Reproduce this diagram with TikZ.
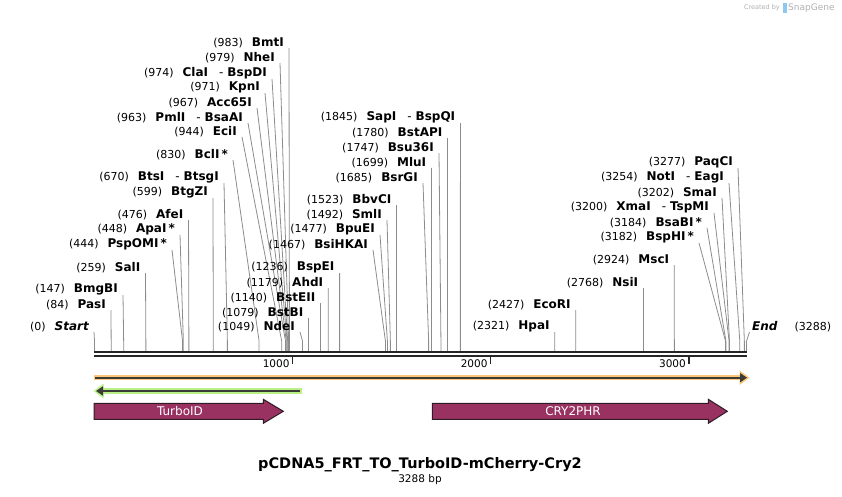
\documentclass[tikz,border=0pt]{standalone}
\usepackage{fontspec}
\setmainfont{DejaVu Sans}
\usetikzlibrary{arrows.meta}

\definecolor{siteGray}{RGB}{140,140,140}
\definecolor{featPurple}{RGB}{153,50,97}
\definecolor{featEdge}{RGB}{45,28,38}
\definecolor{orangeGlow}{RGB}{250,200,120}
\definecolor{greenGlow}{RGB}{185,240,135}
\definecolor{coreDark}{RGB}{60,60,55}
\definecolor{logoGray}{RGB}{175,175,175}
\definecolor{logoBlue}{RGB}{140,200,240}

\newcommand\sitenum{\fontsize{11}{12}\selectfont}
\newcommand\sitename{\fontsize{12}{13}\selectfont\bfseries}
\newcommand\sitesep{\hspace{11pt}{\mdseries -}\hspace{4pt}}
% \cutsite{id}{bp}{x line start}{y line start}{name}
\newcommand\cutsite[5]{%
  \node[sitelbl] (l#1) at ({#3-5},#4) {{\sitenum(#2)}\hspace{9pt}{\sitename #5}};
  \coordinate (s#1) at ({94.5+0.1983*#2},341);
  \coordinate (b#1) at ({94.5+0.1983*#2},351);
  \draw[siteline] ([xshift=5pt]l#1.south east) -- (s#1) -- (b#1);
}

\begin{document}
\begin{tikzpicture}[x=1pt,y=-1pt,
  sitelbl/.style={anchor=south east,inner sep=0pt},
  siteline/.style={siteGray,line width=0.8pt},
  seqline/.style={black!85,line width=2pt},
  ticks/.style={black!85,line width=1.5pt},
  glow/.style={#1,line width=5.5pt},
  core/.style={coreDark,line width=2pt},
  feat/.style={fill=featPurple,draw=featEdge,line width=1pt}]
  \useasboundingbox (0,0) rectangle (842,496);
  % ============ SnapGene logo ============
  \node[anchor=east,inner sep=0pt,text=logoGray,font=\fontsize{6.5}{8}\selectfont] (crby) at (780,8) {Created by};
  \fill[logoBlue] (783,3) rectangle (787,13);
  \node[anchor=west,inner sep=0pt,text=logoGray,font=\fontsize{9}{10}\selectfont] (sgene) at (788,8) {SnapGene};
  % ============ SITIOS (izquierda) ============
  \node[sitelbl] (lStart) at (89,332) {{\sitenum(0)}\hspace{9pt}{\sitename\itshape Start}};
  \coordinate (sStart) at (94.5,341); \coordinate (bStart) at (94.5,351);
  \draw[siteline] ([xshift=5pt]lStart.south east) -- (sStart) -- (bStart);
  \cutsite{PasI}{84}{111}{310}{PasI}
  \cutsite{BmgBI}{147}{123}{295}{BmgBI}
  \cutsite{SalI}{259}{145.5}{273}{SalI}
  \cutsite{PspOMI}{444}{172}{250}{PspOMI\,*}
  \cutsite{ApaI}{448}{180}{235}{ApaI\,*}
  \cutsite{AfeI}{476}{188.5}{220}{AfeI}
  \cutsite{BtgZI}{599}{213}{198}{BtgZI}
  \cutsite{BtsI}{670}{224}{183}{BtsI\sitesep BtsgI}
  \cutsite{BclI}{830}{233}{160}{BclI\,*}
  \cutsite{EciI}{944}{242}{137}{EciI}
  \cutsite{PmlI}{963}{248}{123}{PmlI\sitesep BsaAI}
  \cutsite{AccI}{967}{257}{108}{Acc65I}
  \cutsite{KpnI}{971}{265}{93}{KpnI}
  \cutsite{ClaI}{974}{272}{79}{ClaI\sitesep BspDI}
  \cutsite{NheI}{979}{280}{63}{NheI}
  \cutsite{BmtI}{983}{289}{48}{BmtI}
  % ============ SITIOS (centro) ============
  \cutsite{NdeI}{1049}{300}{332}{NdeI}
  \cutsite{BstBI}{1079}{308.5}{318}{BstBI}
  \cutsite{BstEII}{1140}{320.5}{303}{BstEII}
  \cutsite{AhdI}{1179}{328.3}{288}{AhdI}
  \cutsite{BspEI}{1236}{339.6}{273}{BspEI}
  \cutsite{BsiHKAI}{1467}{373}{250}{BsiHKAI}
  \cutsite{BpuEI}{1477}{380}{235}{BpuEI}
  \cutsite{SmlI}{1492}{387}{220}{SmlI}
  \cutsite{BbvCI}{1523}{396.5}{205}{BbvCI}
  \cutsite{BsrGI}{1685}{423}{183}{BsrGI}
  \cutsite{MluI}{1699}{431.4}{168}{MluI}
  \cutsite{BsuI}{1747}{439}{153}{Bsu36I}
  \cutsite{BstAPI}{1780}{447.5}{138}{BstAPI}
  \cutsite{SapI}{1845}{460.4}{123}{SapI\sitesep BspQI}
  % ============ SITIOS (derecha) ============
  \cutsite{HpaI}{2321}{554.8}{332}{HpaI}
  \cutsite{EcoRI}{2427}{575.8}{310}{EcoRI}
  \cutsite{NsiI}{2768}{643.4}{288}{NsiI}
  \cutsite{MscI}{2924}{674.3}{265}{MscI}
  \cutsite{BspHI}{3182}{699}{243}{BspHI\,*}
  \cutsite{BsaBI}{3184}{707}{228}{BsaBI\,*}
  \cutsite{XmaI}{3200}{714}{213}{XmaI\sitesep TspMI}
  \cutsite{SmaI}{3202}{722}{198}{SmaI}
  \cutsite{NotI}{3254}{729}{183}{NotI\sitesep EagI}
  \cutsite{PaqCI}{3277}{738}{168}{PaqCI}
  \node[anchor=south west,inner sep=0pt] (lEnd) at (752,332) {{\sitename\itshape End}\hspace{17pt}{\sitenum(3288)}};
  \coordinate (sEnd) at (746.5,341); \coordinate (bEnd) at (746.5,351);
  \draw[siteline] ([xshift=-2.5pt]lEnd.south west) -- (sEnd) -- (bEnd);
  % ============ SECUENCIA Y REGLA ============
  \coordinate (seqL) at (94,352.3); \coordinate (seqR) at (747,352.3);
  \draw[seqline] (seqL) -- (seqR);
  \draw[seqline] ([yshift=-3.9pt]seqL) -- ([yshift=-3.9pt]seqR);
  \foreach \k/\tx in {1/292.7,2/490.7,3/689}{
    \coordinate (t\k) at (\tx,356);
    \draw[ticks] (t\k) -- ++(0,8);
    \node[anchor=east,inner sep=0pt,font=\fontsize{10.5}{12}\selectfont] (tl\k) at ([xshift=-3pt,yshift=-7.5pt]t\k) {\k000};
  }
  % ============ FEATURES ============
  \coordinate (oL) at (94,377.7); \coordinate (oR) at (747,377.7);
  \draw[glow=orangeGlow,-{Triangle[length=10pt,width=14pt]}] (oL) -- ([xshift=2.5pt]oR);
  \draw[core,-{Triangle[length=7pt,width=9pt]}] ([xshift=1pt]oL) -- (oR);
  \coordinate (gL) at (96,391); \coordinate (gR) at (300,391);
  \draw[glow=greenGlow,-{Triangle[length=10pt,width=14pt]}] ([xshift=1.7pt]gR) -- ([xshift=-2.5pt]gL);
  \draw[core,-{Triangle[length=7pt,width=9pt]}] (gR) -- (gL);
  \draw[feat] (94,403.3) -- (263.3,403.3) -- (263.3,399.3) -- (283.3,411.3) -- (263.3,423.3) -- (263.3,419.3) -- (94,419.3) -- cycle;
  \node[text=white,font=\fontsize{12}{13}\selectfont] (turbo) at (180,411.3) {TurboID};
  \draw[feat] (432.3,403.3) -- (708.3,403.3) -- (708.3,399.3) -- (727.3,411.3) -- (708.3,423.3) -- (708.3,419.3) -- (432.3,419.3) -- cycle;
  \node[text=white,font=\fontsize{12}{13}\selectfont] (cry) at (573,411.3) {CRY2PHR};
  % ============ TITULO ============
  \node[font=\fontsize{14.5}{16}\selectfont\bfseries] (title) at (420,465) {pCDNA5\_FRT\_TO\_TurboID-mCherry-Cry2};
  \node[font=\fontsize{10.5}{12}\selectfont] (bp) at (420,480) {3288 bp};
\end{tikzpicture}
\end{document}
